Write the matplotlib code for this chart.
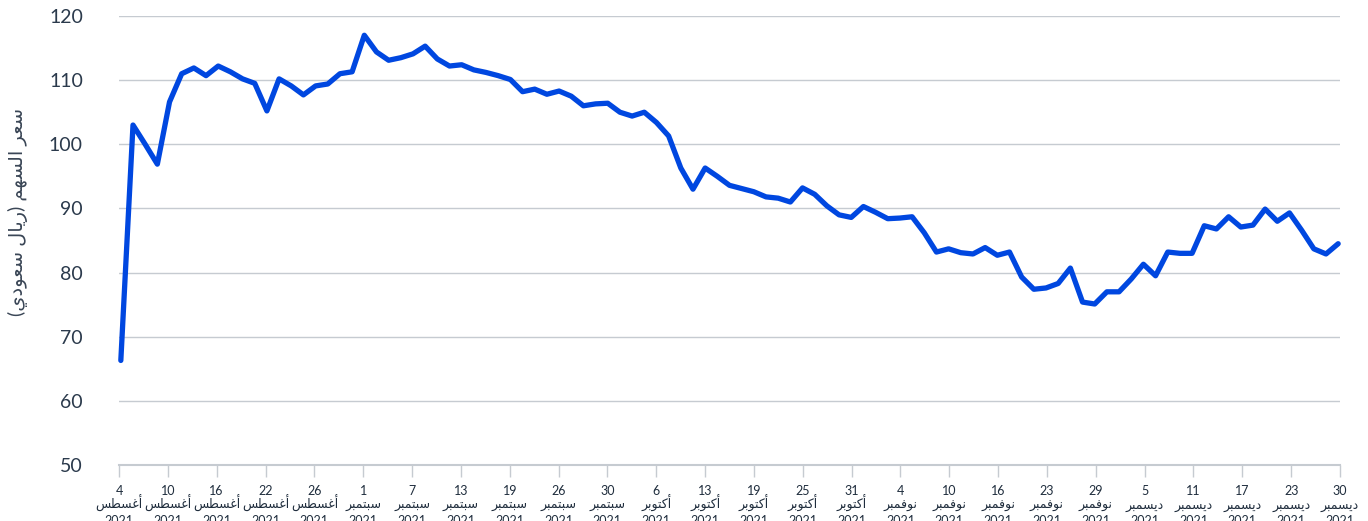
import numpy as np
import matplotlib
matplotlib.use("Agg")
import matplotlib.pyplot as plt

# closing prices (SAR), one per trading day
prices = [66.3, 103.0, 100.0, 96.9, 106.6, 111.0, 111.9, 110.7, 112.2, 111.3,
          110.2, 109.5, 105.2, 110.2, 109.1, 107.7, 109.1, 109.4, 111.0, 111.3,
          117.0, 114.4, 113.1, 113.5, 114.1, 115.3, 113.3, 112.2,
          112.4, 111.6, 111.2, 110.7, 110.1, 108.2, 108.6, 107.8, 108.3, 107.5,
          106.0, 106.3, 106.4, 105.0, 104.4, 105.0, 103.4, 101.3, 96.3, 93.0,
          96.3, 95.0, 93.6, 93.1, 92.6, 91.8, 91.6, 91.0, 93.2, 92.2, 90.4,
          89.0, 88.6, 90.3, 89.4, 88.4, 88.5,
          88.7, 86.2, 83.2, 83.7, 83.1, 82.9, 83.9, 82.7, 83.2, 79.3, 77.4,
          77.6, 78.3, 80.7, 75.4, 75.1, 77.0, 77.0, 79.0, 81.3, 79.5, 83.2,
          83.0, 83.0, 87.3, 86.8, 88.7, 87.1, 87.4, 89.9, 88.0, 89.3, 86.6,
          83.7, 82.9, 84.5]

# 25 ticks from 4 Aug to 30 Dec 2021
tick_days = [4, 10, 16, 22, 26, 1, 7, 13, 19, 26, 30, 6, 13, 19, 25, 31,
             4, 10, 16, 23, 29, 5, 11, 17, 23, 30]
tick_months = ["أغسطس"] * 5 + ["سبتمبر"] * 6 + ["أكتوبر"] * 5 + \
              ["نوفمبر"] * 5 + ["ديسمبر"] * 5
tick_year = "2021"
ylabel = "سعر السهم (ريال سعودي)"

# matplotlib has no arabic shaping, so map letters to presentation forms
# (isolated, final, initial, medial) and reverse to visual order
FORMS = {
    "\u0623": (0xFE83, 0xFE84, None, None),
    "\u0627": (0xFE8D, 0xFE8E, None, None),
    "\u0628": (0xFE8F, 0xFE90, 0xFE91, 0xFE92),
    "\u062A": (0xFE95, 0xFE96, 0xFE97, 0xFE98),
    "\u062F": (0xFEA9, 0xFEAA, None, None),
    "\u0631": (0xFEAD, 0xFEAE, None, None),
    "\u0633": (0xFEB1, 0xFEB2, 0xFEB3, 0xFEB4),
    "\u0637": (0xFEC1, 0xFEC2, 0xFEC3, 0xFEC4),
    "\u0639": (0xFEC9, 0xFECA, 0xFECB, 0xFECC),
    "\u063A": (0xFECD, 0xFECE, 0xFECF, 0xFED0),
    "\u0641": (0xFED1, 0xFED2, 0xFED3, 0xFED4),
    "\u0643": (0xFED9, 0xFEDA, 0xFEDB, 0xFEDC),
    "\u0644": (0xFEDD, 0xFEDE, 0xFEDF, 0xFEE0),
    "\u0645": (0xFEE1, 0xFEE2, 0xFEE3, 0xFEE4),
    "\u0646": (0xFEE5, 0xFEE6, 0xFEE7, 0xFEE8),
    "\u0647": (0xFEE9, 0xFEEA, 0xFEEB, 0xFEEC),
    "\u0648": (0xFEED, 0xFEEE, None, None),
    "\u064A": (0xFEF1, 0xFEF2, 0xFEF3, 0xFEF4),
}
MIRROR = {"(": ")", ")": "("}


def shape(s):
    out = []
    for i, c in enumerate(s):
        if c not in FORMS:
            out.append(MIRROR.get(c, c))
            continue
        prev = s[i - 1] if i > 0 else ""
        nxt = s[i + 1] if i + 1 < len(s) else ""
        join_prev = prev in FORMS and FORMS[prev][2] is not None
        join_next = FORMS[c][2] is not None and nxt in FORMS
        iso, fin, ini, med = FORMS[c]
        if join_prev and join_next:
            code = med
        elif join_prev:
            code = fin
        elif join_next:
            code = ini
        else:
            code = iso
        out.append(chr(code))
    return "".join(out[::-1])


plt.rcParams['font.family'] = ['Lato', 'DejaVu Sans']

fig = plt.figure(figsize=(13.68, 5.21), dpi=100)
ax = fig.add_axes([119 / 1368, 1 - 465 / 521, (1340 - 119) / 1368, 449 / 521])

x = np.arange(len(prices))
ax.plot(x, prices, color='#0047e0', lw=3.8, solid_joinstyle='round',
        solid_capstyle='round', zorder=3, clip_on=False)

lo, hi = -0.15, len(prices) - 1 + 0.15
ax.set_ylim(50, 120)
ax.set_xlim(lo, hi)
ax.set_yticks(range(50, 121, 10))
ax.yaxis.grid(True, color='#c6cbd1', lw=1)
ax.set_axisbelow(True)
for s in ['top', 'right', 'left']:
    ax.spines[s].set_visible(False)
ax.spines['bottom'].set_color('#c6cbd1')
ax.spines['bottom'].set_linewidth(1.5)

ax.tick_params(axis='y', length=0, pad=26, labelsize=14, labelcolor='#2b3a4c')

tick_pos = np.linspace(lo, hi, len(tick_days))
ax.set_xticks(tick_pos)
ax.set_xticklabels([str(d) for d in tick_days], fontsize=9, color='#1f2d3d')
ax.tick_params(axis='x', length=8.5, width=1, color='#c6cbd1', pad=6)

# month and year rows under the day numbers
tr = ax.get_xaxis_transform()
for p, m in zip(tick_pos, tick_months):
    ax.text(p, -44 / 449, shape(m), transform=tr, fontsize=9, color='#1f2d3d',
            ha='center', va='baseline', clip_on=False)
    ax.text(p, -60 / 449, tick_year, transform=tr, fontsize=9,
            color='#1f2d3d', ha='center', va='baseline', clip_on=False)

fig.text(18 / 1368, 1 - 212 / 521, shape(ylabel), rotation=90, fontsize=14,
         color='#3a4656', ha='center', va='center')

fig.savefig("out.png", dpi=100)
